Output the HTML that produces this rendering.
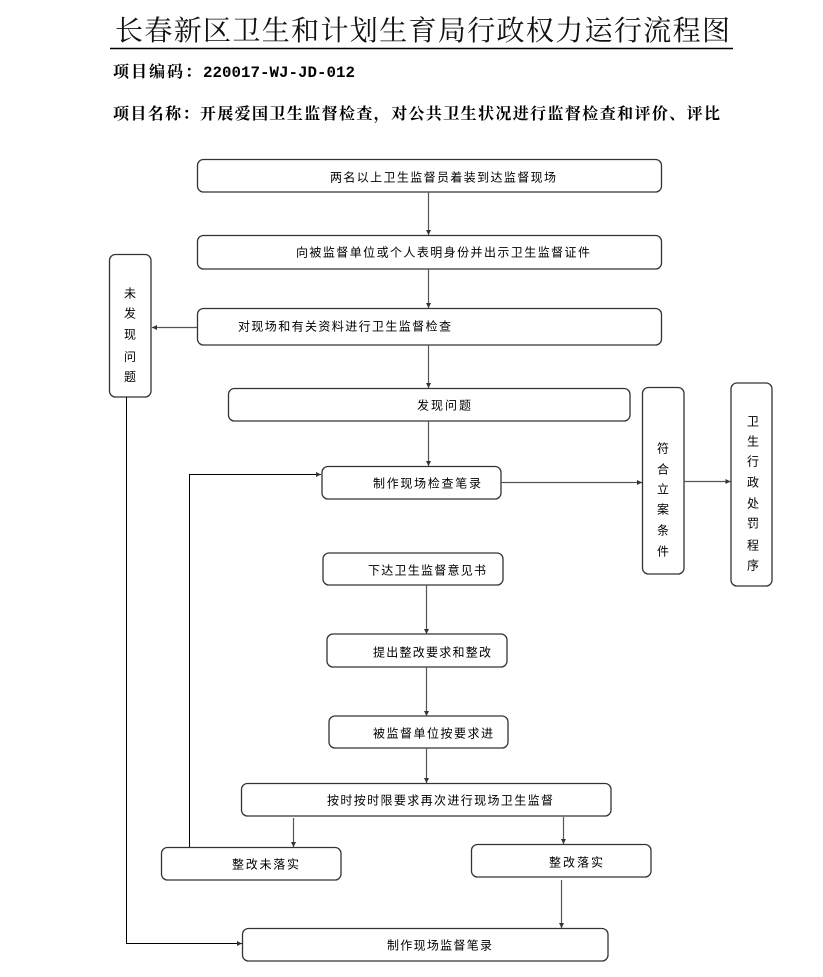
<!DOCTYPE html>
<html>
<head>
<meta charset="utf-8">
<style>
  html,body{margin:0;padding:0;background:#fff;}
  body{width:823px;height:977px;overflow:hidden;}
  svg{display:block;}
  .bx{fill:#fff;stroke:#333;stroke-width:1.3;}
  .ln{stroke:#555;stroke-width:1.2;fill:none;}
  .lk{stroke:#000;stroke-width:1;fill:none;}
  .t{font-family:"Liberation Sans","Noto Sans CJK SC",sans-serif;font-size:12px;fill:#000;}
  .tc{font-family:"Liberation Sans","Noto Sans CJK SC",sans-serif;font-size:12px;fill:#000;text-anchor:middle;}
</style>
</head>
<body>
<svg width="823" height="977" viewBox="0 0 823 977" xmlns="http://www.w3.org/2000/svg">
  <defs>
    <marker id="ah" viewBox="0 0 10 10" refX="10" refY="5" markerWidth="5" markerHeight="5" markerUnits="userSpaceOnUse" orient="auto">
      <path d="M0,0 L10,5 L0,10 z" fill="#333"/>
    </marker>
  </defs>
  <rect width="823" height="977" fill="#fff"/>

  <!-- Header -->
  <text x="115" y="40" font-family="'Liberation Serif','Noto Serif CJK SC',serif" font-size="28" textLength="615" lengthAdjust="spacing" fill="#111">长春新区卫生和计划生育局行政权力运行流程图</text>
  <line x1="110" y1="48.5" x2="733" y2="48.5" stroke="#000" stroke-width="1.5"/>
  <text x="113" y="77" font-family="'Liberation Serif','Noto Serif CJK SC',serif" font-size="16" font-weight="bold" textLength="88" lengthAdjust="spacing">项目编码：</text>
  <text x="203" y="77" font-family="'Liberation Mono',monospace" font-size="15.8" font-weight="bold" textLength="152" lengthAdjust="spacing">220017-WJ-JD-012</text>
  <text x="113" y="119" font-family="'Liberation Serif','Noto Serif CJK SC',serif" font-size="16" font-weight="bold" textLength="607" lengthAdjust="spacing">项目名称：开展爱国卫生监督检查，对公共卫生状况进行监督检查和评价、评比</text>

  <!-- Boxes -->
  <rect class="bx" x="197.5" y="159.5" width="464" height="32.5" rx="6"/>
  <rect class="bx" x="197.5" y="235.5" width="464" height="33.5" rx="6"/>
  <rect class="bx" x="197.5" y="308.5" width="464" height="36.5" rx="6"/>
  <rect class="bx" x="109.5" y="254.5" width="41.5" height="142.5" rx="6"/>
  <rect class="bx" x="228.5" y="388.5" width="401.5" height="32.5" rx="6"/>
  <rect class="bx" x="322" y="466.5" width="179" height="32.5" rx="6"/>
  <rect class="bx" x="642.5" y="387.5" width="41.5" height="186.5" rx="6"/>
  <rect class="bx" x="731" y="383" width="41" height="203" rx="6"/>
  <rect class="bx" x="323" y="553" width="180" height="32" rx="6"/>
  <rect class="bx" x="327" y="634" width="180" height="33" rx="6"/>
  <rect class="bx" x="329" y="716" width="179" height="32" rx="6"/>
  <rect class="bx" x="241.5" y="783.5" width="369.5" height="32.5" rx="6"/>
  <rect class="bx" x="161.5" y="847.5" width="179.5" height="32.5" rx="6"/>
  <rect class="bx" x="471.5" y="844.5" width="179.5" height="32.5" rx="6"/>
  <rect class="bx" x="242.5" y="928.5" width="365.5" height="32.5" rx="6"/>

  <!-- Connectors -->
  <line class="ln" x1="428.5" y1="192" x2="428.5" y2="235" marker-end="url(#ah)"/>
  <line class="ln" x1="428.5" y1="269" x2="428.5" y2="308" marker-end="url(#ah)"/>
  <line class="ln" x1="197" y1="327.5" x2="152" y2="327.5" marker-end="url(#ah)"/>
  <line class="ln" x1="428.5" y1="345" x2="428.5" y2="388" marker-end="url(#ah)"/>
  <line class="ln" x1="428.5" y1="421" x2="428.5" y2="466" marker-end="url(#ah)"/>
  <line class="ln" x1="501" y1="482.5" x2="642" y2="482.5" marker-end="url(#ah)"/>
  <line class="ln" x1="684" y1="481.5" x2="730.5" y2="481.5" marker-end="url(#ah)"/>
  <polyline class="lk" points="126.5,397 126.5,943.5 242,943.5" marker-end="url(#ah)"/>
  <polyline class="lk" points="189.5,847 189.5,474.5 321,474.5" marker-end="url(#ah)"/>
  <line class="ln" x1="426.5" y1="585" x2="426.5" y2="634" marker-end="url(#ah)"/>
  <line class="ln" x1="426.5" y1="667" x2="426.5" y2="716" marker-end="url(#ah)"/>
  <line class="ln" x1="426.5" y1="748" x2="426.5" y2="783" marker-end="url(#ah)"/>
  <line class="ln" x1="293.5" y1="818" x2="293.5" y2="847" marker-end="url(#ah)"/>
  <line class="ln" x1="563.5" y1="817" x2="563.5" y2="844" marker-end="url(#ah)"/>
  <line class="ln" x1="561.5" y1="880" x2="561.5" y2="928" marker-end="url(#ah)"/>

  <!-- Box labels -->
  <text class="t" x="330" y="181.5" textLength="226" lengthAdjust="spacing">两名以上卫生监督员着装到达监督现场</text>
  <text class="t" x="296" y="256.5" textLength="294" lengthAdjust="spacing">向被监督单位或个人表明身份并出示卫生监督证件</text>
  <text class="t" x="238" y="330.5" textLength="213" lengthAdjust="spacing">对现场和有关资料进行卫生监督检查</text>
  <text class="t" x="417" y="409.5" textLength="54" lengthAdjust="spacing">发现问题</text>
  <text class="t" x="373" y="487.5" textLength="108" lengthAdjust="spacing">制作现场检查笔录</text>
  <text class="t" x="368" y="574.5" textLength="118" lengthAdjust="spacing">下达卫生监督意见书</text>
  <text class="t" x="373" y="656.5" textLength="118" lengthAdjust="spacing">提出整改要求和整改</text>
  <text class="t" x="373" y="737.5" textLength="120" lengthAdjust="spacing">被监督单位按要求进</text>
  <text class="t" x="327" y="804.5" textLength="226" lengthAdjust="spacing">按时按时限要求再次进行现场卫生监督</text>
  <text class="t" x="232" y="868.5" textLength="67" lengthAdjust="spacing">整改未落实</text>
  <text class="t" x="549" y="866.5" textLength="54" lengthAdjust="spacing">整改落实</text>
  <text class="t" x="387" y="949.5" textLength="105" lengthAdjust="spacing">制作现场监督笔录</text>

  <!-- Vertical labels -->
  <text class="tc" x="130" y="297.5">未</text>
  <text class="tc" x="130" y="317.5">发</text>
  <text class="tc" x="130" y="338.5">现</text>
  <text class="tc" x="130" y="361">问</text>
  <text class="tc" x="130" y="381">题</text>

  <text class="tc" x="663" y="452.5">符</text>
  <text class="tc" x="663" y="473.5">合</text>
  <text class="tc" x="663" y="493.5">立</text>
  <text class="tc" x="663" y="513.5">案</text>
  <text class="tc" x="663" y="534.5">条</text>
  <text class="tc" x="663" y="555.5">件</text>

  <text class="tc" x="753" y="425.5">卫</text>
  <text class="tc" x="753" y="445.5">生</text>
  <text class="tc" x="753" y="465.5">行</text>
  <text class="tc" x="753" y="486.5">政</text>
  <text class="tc" x="753" y="507.5">处</text>
  <text class="tc" x="753" y="527.5">罚</text>
  <text class="tc" x="753" y="549.5">程</text>
  <text class="tc" x="753" y="569.5">序</text>
</svg>
</body>
</html>
